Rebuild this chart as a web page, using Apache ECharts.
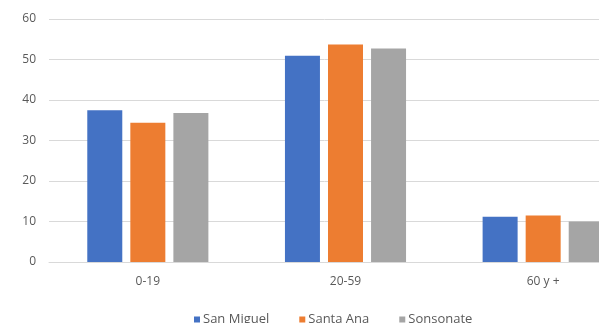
<!DOCTYPE html>
<html>
<head>
<meta charset="utf-8">
<script src="https://cdn.jsdelivr.net/npm/echarts@6/dist/echarts.min.js"></script>
<style>
  html, body { margin: 0; padding: 0; background: #fff; }
  #chart { width: 599px; height: 323px; }
</style>
</head>
<body>
<div id="chart"></div>
<script>
const categories = ['0-19', '20-59', '60 y +']
const sanMiguel = [37.5, 50.9, 11.2]
const santaAna = [34.4, 53.7, 11.5]
const sonsonate = [36.8, 52.7, 10.0]

const font = '"Open Sans", "Noto Sans", sans-serif'
const chart = echarts.init(document.getElementById('chart'))

function bar(name, data, color) {
  return {
    name: name,
    type: 'bar',
    data: data,
    barWidth: 35,
    barGap: '23%',
    itemStyle: { color: color },
    animation: false
  }
}

chart.setOption({
  textStyle: { fontFamily: font },
  grid: { left: 49, top: 19, width: 593, height: 243, outerBoundsMode: 'none' },
  legend: {
    left: 189,
    top: 308,
    itemWidth: 6,
    itemHeight: 6,
    itemGap: 30,
    icon: 'rect',
    textStyle: { color: '#595959', fontSize: 13, fontFamily: font, padding: [0, 0, 0, -2] }
  },
  xAxis: {
    type: 'category',
    data: categories,
    axisLine: { lineStyle: { color: '#d9d9d9' } },
    axisTick: { show: false },
    axisLabel: { color: '#595959', fontSize: 12, margin: 14 }
  },
  yAxis: {
    type: 'value',
    min: 0,
    max: 60,
    interval: 10,
    axisLine: { show: false },
    axisTick: { show: false },
    splitLine: { lineStyle: { color: '#d9d9d9' } },
    axisLabel: { color: '#595959', fontSize: 12, margin: 13 }
  },
  series: [
    bar('San Miguel', sanMiguel, '#4472c4'),
    bar('Santa Ana', santaAna, '#ed7d31'),
    bar('Sonsonate', sonsonate, '#a5a5a5')
  ]
})
</script>
</body>
</html>
